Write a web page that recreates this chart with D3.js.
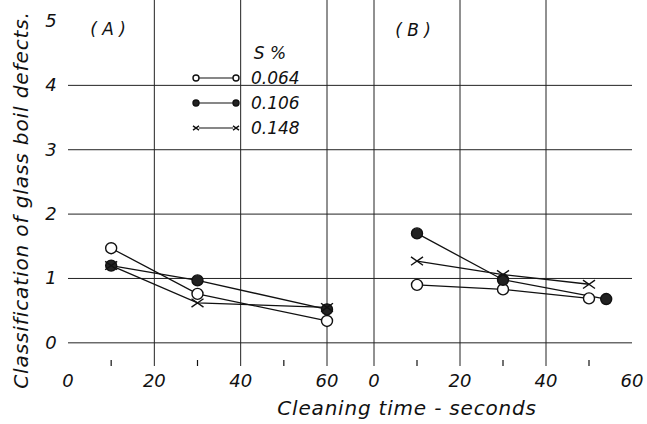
<!DOCTYPE html>
<html>
<head>
<meta charset="utf-8">
<script src="https://cdn.jsdelivr.net/npm/d3@7"></script>
<style>
body { margin: 0; background: #fff; }
svg text { font-family: "DejaVu Sans", sans-serif; font-style: italic; fill: #111; }
.grid line { stroke: #222; stroke-width: 1; }
.frame { fill: none; stroke: #111; stroke-width: 1.6; }
.series { fill: none; stroke: #111; stroke-width: 1.3; }
</style>
</head>
<body>
<svg id="chart" width="647" height="424"></svg>
<script>
var xTicks = [0, 20, 40, 60];
var yTicks = [0, 1, 2, 3, 4, 5];
var minorTicks = [10, 30, 50];
var seriesNames = ["0.064", "0.106", "0.148"];
var seriesMarks = ["open", "filled", "cross"];

// panel (A)
var timeA = [[10, 30, 60], [10, 30, 60], [10, 30, 60]];
var valA = [[1.47, 0.76, 0.34], [1.2, 0.97, 0.52], [1.2, 0.62, 0.55]];
// panel (B)
var timeB = [[10, 30, 50], [10, 30, 54], [10, 30, 50]];
var valB = [[0.9, 0.83, 0.69], [1.7, 0.98, 0.68], [1.27, 1.06, 0.91]];

var svg = d3.select("#chart");

var y = d3.scaleLinear().domain([-0.36, 5]).range([366, 21]);
var xA = d3.scaleLinear().domain([0, 60]).range([68, 327]);
var xB = d3.scaleLinear().domain([0, 60]).range([374, 632]);

var left = xA(0), right = xB(60), top = y(5), bottom = y(-0.36);

// horizontal grid across whole frame
svg.append("g")
	.attr("class", "grid")
	.selectAll("line")
	.data([0, 1, 2, 3, 4])
	.enter().append("line")
	.attr("x1", left).attr("x2", right)
	.attr("y1", function(d){return y(d);})
	.attr("y2", function(d){return y(d);});

// vertical grid for both panels
var vlines = [xA(20), xA(40), xA(60), xB(0), xB(20), xB(40)];
svg.append("g")
	.attr("class", "grid")
	.selectAll("line")
	.data(vlines)
	.enter().append("line")
	.attr("x1", function(d){return d;}).attr("x2", function(d){return d;})
	.attr("y1", top).attr("y2", bottom);

svg.append("rect")
	.attr("class", "frame")
	.attr("x", left).attr("y", top)
	.attr("width", right - left).attr("height", bottom - top);

// small ticks on bottom edge
[xA, xB].forEach(function(sc){
	svg.append("g")
		.selectAll("line")
		.data(minorTicks)
		.enter().append("line")
		.attr("x1", function(d){return sc(d);}).attr("x2", function(d){return sc(d);})
		.attr("y1", bottom).attr("y2", bottom - 6)
		.attr("stroke", "#111").attr("stroke-width", 1.2);

	svg.append("g")
		.selectAll("text")
		.data(xTicks)
		.enter().append("text")
		.attr("x", function(d){return sc(d);})
		.attr("y", 387)
		.attr("text-anchor", "middle")
		.attr("font-size", 18)
		.text(function(d){return d;});
});

svg.append("g")
	.selectAll("text")
	.data(yTicks)
	.enter().append("text")
	.attr("x", 51)
	.attr("y", function(d){return y(d) + 6;})
	.attr("text-anchor", "middle")
	.attr("font-size", 18)
	.text(function(d){return d;});

svg.append("text")
	.attr("x", 407).attr("y", 415)
	.attr("text-anchor", "middle")
	.attr("font-size", 20)
	.attr("letter-spacing", 0.8)
	.text("Cleaning time - seconds");

svg.append("text")
	.attr("transform", "translate(28,200) rotate(-90)")
	.attr("text-anchor", "middle")
	.attr("font-size", 20)
	.attr("letter-spacing", 0.9)
	.text("Classification of glass boil defects.");

svg.append("text").attr("x", 108).attr("y", 35)
	.attr("text-anchor", "middle").attr("font-size", 17)
	.text("( A )");
svg.append("text").attr("x", 413).attr("y", 36)
	.attr("text-anchor", "middle").attr("font-size", 17)
	.text("( B )");

function drawMark(g, kind, cx, cy, r)
{
	if (kind == "cross")
	{
		g.append("path")
			.attr("d", "M" + (cx - r) + "," + (cy - r * 0.7) + "L" + (cx + r) + "," + (cy + r * 0.7) +
				"M" + (cx - r) + "," + (cy + r * 0.7) + "L" + (cx + r) + "," + (cy - r * 0.7))
			.attr("stroke", "#111").attr("stroke-width", 1.4).attr("fill", "none");
	}
	else
	{
		g.append("circle")
			.attr("cx", cx).attr("cy", cy).attr("r", r)
			.attr("fill", kind == "filled" ? "#222" : "#fff")
			.attr("stroke", "#111").attr("stroke-width", 1.4);
	}
}

function drawPanel(sc, times, vals)
{
	var line = d3.line()
		.x(function(d){return sc(d[0]);})
		.y(function(d){return y(d[1]);});
	var g = svg.append("g");
	for (var i = 0; i < vals.length; i++)
	{
		var pts = d3.zip(times[i], vals[i]);
		g.append("path")
			.datum(pts)
			.attr("class", "series")
			.attr("d", line);
	}
	for (var i = 0; i < vals.length; i++)
	{
		for (var j = 0; j < vals[i].length; j++)
			drawMark(g, seriesMarks[i], sc(times[i][j]), y(vals[i][j]), seriesMarks[i] == "cross" ? 6 : 5.5);
	}
}

drawPanel(xA, timeA, valA);
drawPanel(xB, timeB, valB);

// legend
var legend = svg.append("g");
legend.append("text")
	.attr("x", 270).attr("y", 59)
	.attr("text-anchor", "middle").attr("font-size", 17)
	.text("S  %");
for (var i = 0; i < seriesNames.length; i++)
{
	var ly = 78 + i * 25;
	legend.append("line")
		.attr("x1", 199).attr("x2", 233)
		.attr("y1", ly).attr("y2", ly)
		.attr("stroke", "#111").attr("stroke-width", 1.2);
	drawMark(legend, seriesMarks[i], 196, ly, 3);
	drawMark(legend, seriesMarks[i], 236, ly, 3);
	legend.append("text")
		.attr("x", 251).attr("y", ly + 6)
		.attr("font-size", 17)
		.text(seriesNames[i]);
}
</script>
</body>
</html>
